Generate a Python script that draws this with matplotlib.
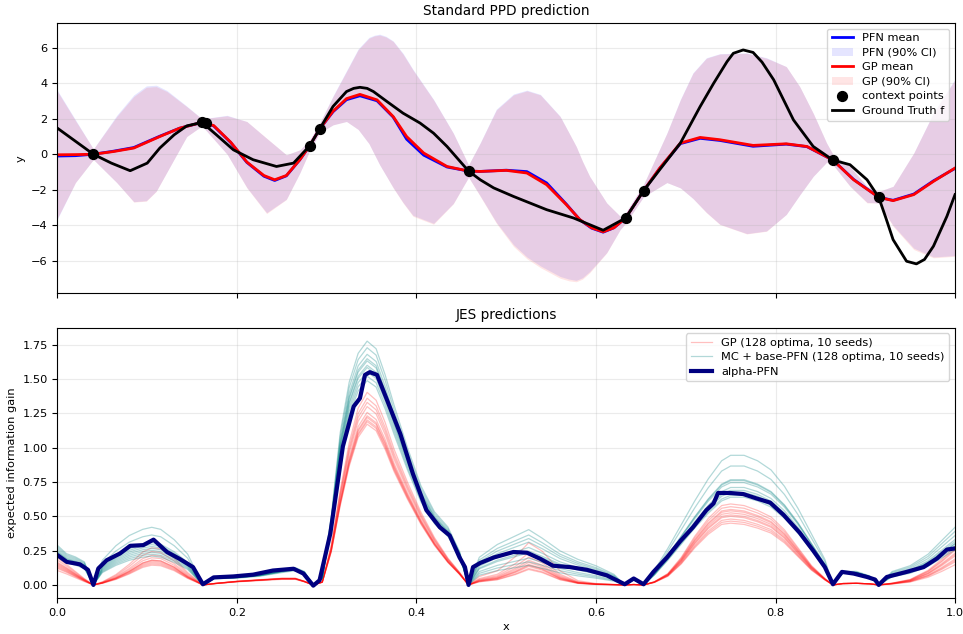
import numpy as np
import matplotlib.pyplot as plt

plt.rcParams['font.size'] = 8.2

# ---- top panel data: posterior predictive ----
ctx_x = [0.040, 0.161, 0.165, 0.281, 0.292, 0.458, 0.633, 0.653, 0.864, 0.915]
ctx_y = [0.0, 1.8, 1.78, 0.48, 1.42, -0.95, -3.6, -2.06, -0.33, -2.43]

truth_x = [0, 0.04, 0.06, 0.081, 0.1, 0.114, 0.13, 0.144, 0.161, 0.177, 0.196, 0.218,
           0.244, 0.263, 0.281, 0.292, 0.307, 0.322, 0.33, 0.337, 0.345, 0.352, 0.367,
           0.385, 0.404, 0.419, 0.434, 0.458, 0.471, 0.486, 0.508, 0.545, 0.575, 0.608,
           0.633, 0.653, 0.671, 0.694, 0.716, 0.731, 0.746, 0.753, 0.764, 0.775, 0.785,
           0.798, 0.82, 0.842, 0.864, 0.883, 0.902, 0.915, 0.923, 0.931, 0.946, 0.957,
           0.966, 0.976, 0.991, 1.0]
truth_y = [1.47, 0.0, -0.5, -0.93, -0.5, 0.35, 1.1, 1.6, 1.8, 1.1, 0.25, -0.31,
           -0.69, -0.5, 0.48, 1.42, 2.7, 3.54, 3.72, 3.78, 3.72, 3.54, 2.98,
           2.32, 1.76, 1.19, 0.44, -0.95, -1.44, -1.9, -2.38, -3.13, -3.6, -4.29,
           -3.6, -2.06, -0.87, 0.63, 2.69, 4.0, 5.23, 5.7, 5.89, 5.75, 5.2,
           4.2, 1.94, 0.44, -0.33, -0.59, -1.44, -2.43, -3.6, -4.82, -6.04, -6.19,
           -5.94, -5.19, -3.5, -2.28]

mean_x = [0, 0.02, 0.04, 0.062, 0.085, 0.114, 0.136, 0.161, 0.174, 0.193, 0.211, 0.23,
          0.242, 0.255, 0.27, 0.281, 0.292, 0.307, 0.322, 0.337, 0.356, 0.374, 0.389,
          0.408, 0.434, 0.458, 0.471, 0.5, 0.523, 0.545, 0.567, 0.582, 0.595, 0.608,
          0.62, 0.633, 0.653, 0.671, 0.694, 0.716, 0.738, 0.775, 0.812, 0.835, 0.864,
          0.887, 0.915, 0.931, 0.954, 0.976, 1.0]
gp_mean = [-0.03, -0.02, 0.0, 0.15, 0.35, 1.0, 1.47, 1.8, 1.62, 0.68, -0.44, -1.2,
           -1.44, -1.2, -0.31, 0.48, 1.42, 2.43, 3.14, 3.38, 3.07, 2.13, 1.0,
           0.07, -0.69, -0.95, -0.97, -0.91, -1.06, -1.72, -2.85, -3.69, -4.15, -4.38,
           -4.15, -3.6, -2.06, -0.78, 0.63, 0.95, 0.82, 0.5, 0.59, 0.44, -0.33,
           -1.44, -2.43, -2.62, -2.28, -1.53, -0.78]
pfn_mean = [-0.1, -0.08, 0.0, 0.17, 0.38, 1.02, 1.47, 1.8, 1.6, 0.66, -0.46, -1.24,
            -1.48, -1.22, -0.31, 0.48, 1.42, 2.4, 3.08, 3.3, 3.02, 2.1, 0.85,
            -0.05, -0.72, -0.95, -0.97, -0.9, -0.98, -1.62, -2.82, -3.7, -4.17, -4.4,
            -4.15, -3.6, -2.06, -0.8, 0.6, 0.9, 0.78, 0.45, 0.57, 0.43, -0.33,
            -1.42, -2.43, -2.6, -2.25, -1.5, -0.8]

band_x = [0, 0.02, 0.04, 0.066, 0.085, 0.099, 0.11, 0.122, 0.144, 0.161, 0.189, 0.211,
          0.233, 0.255, 0.27, 0.281, 0.292, 0.307, 0.322, 0.335, 0.347, 0.353, 0.359,
          0.366, 0.374, 0.385, 0.396, 0.419, 0.441, 0.458, 0.471, 0.489, 0.508, 0.523,
          0.538, 0.56, 0.57, 0.578, 0.585, 0.593, 0.612, 0.627, 0.633, 0.653, 0.679,
          0.694, 0.708, 0.723, 0.738, 0.768, 0.79, 0.812, 0.827, 0.842, 0.857, 0.864,
          0.883, 0.902, 0.915, 0.931, 0.954, 0.976, 1.0]
gp_upper = [3.54, 1.9, 0.3, 2.13, 3.26, 3.78, 3.82, 3.54, 2.69, 2.0, 2.17, 1.85,
            0.91, -0.03, 0.25, 0.8, 1.75, 3.26, 4.67, 5.9, 6.55, 6.68, 6.73,
            6.62, 6.37, 5.65, 4.76, 3.07, 1.19, -0.6, 0.63, 2.5, 3.35, 3.58,
            3.35, 2.13, 1.2, 0.44, -0.4, -1.25, -2.75, -3.5, -3.3, -1.7, 1.19,
            3.07, 4.57, 5.42, 5.66, 5.7, 5.42, 4.95, 3.82, 2.32, 0.63, 0.0,
            -0.69, -1.81, -2.1, -1.81, 0.07, 2.32, 4.2]
gp_lower = [-3.6, -1.6, -0.3, -1.6, -2.7, -2.65, -2.1, -1.0, 1.0, 1.6, 0.0, -1.9,
            -3.35, -2.56, -1.06, 0.2, 1.2, 1.66, 1.85, 1.4, 0.6, 0.0, -0.6,
            -1.2, -1.9, -2.75, -3.5, -3.95, -2.8, -1.3, -2.38, -3.9, -5.2, -5.9,
            -6.4, -7.0, -7.15, -7.2, -7.05, -6.69, -5.57, -4.25, -3.9, -2.4, -1.6,
            -1.9, -2.5, -3.3, -3.97, -4.5, -4.35, -3.4, -2.3, -1.25, -0.45, -0.6,
            -1.81, -2.75, -2.75, -4.07, -5.38, -5.85, -5.76]
pfn_upper = [3.6, 1.95, 0.3, 2.2, 3.35, 3.86, 3.9, 3.6, 2.72, 2.0, 2.2, 1.85,
             0.9, -0.03, 0.25, 0.8, 1.75, 3.3, 4.72, 5.95, 6.6, 6.72, 6.78,
             6.66, 6.4, 5.7, 4.8, 3.1, 1.2, -0.6, 0.65, 2.55, 3.4, 3.62,
             3.38, 2.15, 1.2, 0.44, -0.4, -1.25, -2.75, -3.5, -3.3, -1.7, 1.2,
             3.1, 4.6, 5.45, 5.68, 5.72, 5.45, 4.95, 3.82, 2.32, 0.63, 0.0,
             -0.69, -1.81, -2.1, -1.81, 0.07, 2.35, 4.25]
pfn_lower = [-3.65, -1.6, -0.3, -1.6, -2.68, -2.62, -2.08, -1.0, 1.0, 1.6, 0.0, -1.88,
             -3.3, -2.54, -1.06, 0.2, 1.2, 1.66, 1.85, 1.4, 0.6, 0.0, -0.6,
             -1.2, -1.88, -2.72, -3.45, -3.9, -2.78, -1.3, -2.35, -3.85, -5.1, -5.8,
             -6.3, -6.9, -7.05, -7.12, -6.97, -6.62, -5.55, -4.25, -3.9, -2.4, -1.6,
             -1.9, -2.5, -3.28, -3.95, -4.48, -4.33, -3.4, -2.3, -1.25, -0.45, -0.6,
             -1.8, -2.72, -2.75, -4.02, -5.3, -5.8, -5.72]

# ---- bottom panel data: JES acquisition ----
eig_x = [0, 0.01, 0.02, 0.03, 0.04,
         0.05, 0.065, 0.08, 0.095, 0.105, 0.115, 0.13, 0.145, 0.162,
         0.175, 0.2, 0.225, 0.25, 0.265, 0.275, 0.285,
         0.295, 0.305, 0.315, 0.325, 0.335, 0.345, 0.355, 0.365, 0.375, 0.39, 0.405,
         0.42, 0.435, 0.448, 0.458,
         0.47, 0.49, 0.51, 0.525, 0.54, 0.56, 0.58, 0.6, 0.62, 0.632,
         0.642, 0.653,
         0.665, 0.68, 0.695, 0.71, 0.725, 0.74, 0.75, 0.765, 0.78, 0.795, 0.81,
         0.825, 0.84, 0.855, 0.864,
         0.875, 0.89, 0.905, 0.915,
         0.93, 0.95, 0.97, 0.985, 1.0]
gp_eig = [0.15, 0.115, 0.075, 0.035, 0.0,
          0.015, 0.05, 0.1, 0.16, 0.18, 0.175, 0.13, 0.06, 0.0,
          0.01, 0.025, 0.035, 0.045, 0.045, 0.025, 0.0,
          0.02, 0.25, 0.6, 0.9, 1.12, 1.22, 1.17, 1.03, 0.86, 0.65, 0.46,
          0.3, 0.17, 0.08, 0.0,
          0.03, 0.05, 0.1, 0.15, 0.12, 0.05, 0.015, 0.005, 0.002, 0.0,
          0.003, 0.0,
          0.02, 0.07, 0.17, 0.3, 0.41, 0.49, 0.5, 0.49, 0.46, 0.42, 0.34,
          0.23, 0.12, 0.04, 0.0,
          0.01, 0.012, 0.008, 0.0,
          0.01, 0.03, 0.08, 0.14, 0.21]
mc_eig = [0.24, 0.19, 0.17, 0.14, 0.0,
          0.12, 0.19, 0.24, 0.27, 0.28, 0.27, 0.22, 0.15, 0.0,
          0.05, 0.055, 0.07, 0.1, 0.115, 0.09, 0.0,
          0.05, 0.45, 1.0, 1.33, 1.52, 1.6, 1.55, 1.38, 1.18, 0.9, 0.65,
          0.48, 0.38, 0.22, 0.0,
          0.13, 0.19, 0.23, 0.26, 0.22, 0.16, 0.12, 0.09, 0.05, 0.0,
          0.04, 0.0,
          0.08, 0.2, 0.33, 0.46, 0.58, 0.68, 0.71, 0.71, 0.68, 0.63, 0.54,
          0.42, 0.28, 0.14, 0.0,
          0.09, 0.09, 0.06, 0.0,
          0.07, 0.1, 0.16, 0.23, 0.3]

gp_seed_scale = [
    [0.7, 1.0, 0.95, 1.03, 0.8, 1, 0.96, 1, 0.85],
    [0.8, 0.85, 1.0, 0.96, 1.35, 1, 1.05, 1, 1.2],
    [0.9, 1.35, 1.05, 1.115, 2.05, 1, 1.14, 1, 0.7],
    [0.95, 0.9, 1.0, 0.985, 0.95, 1, 0.9, 1, 1.0],
    [1.0, 1.1, 0.9, 1.065, 1.0, 1, 1.18, 1, 1.33],
    [1.05, 0.8, 1.0, 1.0, 0.75, 1, 1.02, 1, 0.9],
    [1.1, 1.5, 1.05, 1.15, 1.2, 1, 1.08, 1, 1.1],
    [1.2, 0.95, 1.0, 0.975, 0.9, 1, 0.93, 1, 1.25],
    [1.3, 1.2, 1.1, 1.09, 1.55, 1, 1.0, 1, 0.8],
    [0.85, 1.0, 1.0, 1.01, 1.1, 1, 1.1, 1, 1.05],
]
mc_seed_scale = [
    [0.85, 0.75, 0.95, 0.93, 0.55, 1, 0.9, 0.95, 0.85],
    [1.0, 1.5, 1.05, 1.11, 1.55, 1.1, 1.33, 1.05, 1.4],
    [1.1, 0.9, 1.0, 0.97, 0.9, 1, 0.95, 1, 1.0],
    [0.9, 1.3, 1.1, 1.05, 1.4, 1, 1.22, 1.1, 1.2],
    [1.15, 0.85, 0.95, 0.99, 0.65, 0.9, 0.92, 0.95, 0.9],
    [0.95, 1.0, 1.0, 1.03, 1.05, 1, 1.07, 1, 1.1],
    [1.05, 0.8, 0.9, 0.95, 0.75, 1, 0.97, 1, 0.95],
    [1.0, 1.1, 1.0, 1.08, 1.3, 1, 1.08, 1, 1.3],
    [1.2, 0.95, 1.05, 1.0, 1.2, 1, 1.0, 1, 1.0],
    [0.9, 1.05, 1.0, 1.02, 0.95, 1, 1.05, 1, 1.05],
]

apfn_x = [0, 0.0103, 0.025, 0.034, 0.04, 0.0455, 0.0548, 0.0696, 0.081, 0.0956, 0.107,
          0.122, 0.136, 0.151, 0.162, 0.174, 0.196, 0.218, 0.24, 0.263, 0.274, 0.285,
          0.292, 0.304, 0.318, 0.33, 0.337, 0.3426, 0.348, 0.356, 0.367, 0.382, 0.396,
          0.411, 0.426, 0.437, 0.448, 0.454, 0.458, 0.463, 0.471, 0.486, 0.508, 0.523,
          0.538, 0.552, 0.571, 0.59, 0.612, 0.632, 0.642, 0.653, 0.664, 0.679, 0.694,
          0.708, 0.723, 0.731, 0.736, 0.749, 0.764, 0.779, 0.794, 0.809, 0.827, 0.842,
          0.855, 0.864, 0.874, 0.887, 0.902, 0.911, 0.915, 0.924, 0.946, 0.965, 0.98,
          0.991, 1.0]
apfn_y = [0.217, 0.168, 0.15, 0.11, 0.0, 0.12, 0.18, 0.229, 0.285, 0.29, 0.33,
          0.24, 0.19, 0.13, 0.005, 0.055, 0.062, 0.075, 0.105, 0.118, 0.083, -0.005,
          0.034, 0.375, 1.01, 1.3, 1.36, 1.53, 1.55, 1.53, 1.35, 1.1, 0.81,
          0.545, 0.42, 0.36, 0.2, 0.13, 0.0, 0.13, 0.16, 0.2, 0.24, 0.235,
          0.19, 0.14, 0.13, 0.11, 0.07, 0.005, 0.047, 0.005, 0.095, 0.2, 0.32,
          0.42, 0.545, 0.594, 0.67, 0.67, 0.662, 0.63, 0.6, 0.51, 0.38, 0.25,
          0.13, 0.005, 0.095, 0.083, 0.058, 0.039, 0.0, 0.058, 0.095, 0.13, 0.193,
          0.258, 0.266]


def seed_curve(template, scales):
    # stretches between context points share one scale; template is 0 at the joins
    edges = [0.04, 0.162, 0.285, 0.458, 0.632, 0.653, 0.864, 0.915]
    seg = np.searchsorted(edges, np.array(eig_x), side='left')
    return np.array(template) * np.array(scales)[seg]


fig, (ax1, ax2) = plt.subplots(2, 1, figsize=(9.63, 6.34), dpi=100, sharex=True)
fig.subplots_adjust(left=0.0597, right=0.9917, top=0.9637, bottom=0.0568, hspace=0.126)

# top panel
pfn_ci = ax1.fill_between(band_x, pfn_lower, pfn_upper, color='blue', alpha=0.1,
                          linewidth=0, label='PFN (90% CI)')
gp_ci = ax1.fill_between(band_x, gp_lower, gp_upper, color='red', alpha=0.1,
                         linewidth=0, label='GP (90% CI)')
pfn_line, = ax1.plot(mean_x, pfn_mean, color='blue', lw=2, label='PFN mean')
gp_line, = ax1.plot(mean_x, gp_mean, color='red', lw=2, label='GP mean')
truth_line, = ax1.plot(truth_x, truth_y, color='black', lw=2, label='Ground Truth f')
ctx = ax1.scatter(ctx_x, ctx_y, color='black', s=50, zorder=5, label='context points')
ax1.legend(handles=[pfn_line, pfn_ci, gp_line, gp_ci, ctx, truth_line],
           loc='upper right', fontsize=8.2, labelspacing=0.4, handlelength=1.9)
ax1.set_title('Standard PPD prediction', fontsize=9.8)
ax1.set_ylabel('y')
ax1.set_ylim(-7.86, 7.41)
ax1.set_yticks([-6, -4, -2, 0, 2, 4, 6])
ax1.grid(True, alpha=0.25)

# bottom panel
for i, sc in enumerate(gp_seed_scale):
    ax2.plot(eig_x, seed_curve(gp_eig, sc), color='red', alpha=0.25, lw=0.9,
             label='GP (128 optima, 10 seeds)' if i == 0 else None)
for i, sc in enumerate(mc_seed_scale):
    ax2.plot(eig_x, seed_curve(mc_eig, sc), color='teal', alpha=0.3, lw=0.9,
             label='MC + base-PFN (128 optima, 10 seeds)' if i == 0 else None)
ax2.plot(apfn_x, apfn_y, color='navy', lw=3, label='alpha-PFN')
ax2.legend(loc='upper right', fontsize=8.2, labelspacing=0.4, handlelength=1.9)
ax2.set_title('JES predictions', fontsize=9.8)
ax2.set_xlabel('x', labelpad=3)
ax2.set_ylabel('expected information gain')
ax2.set_ylim(-0.095, 1.875)
ax2.set_xlim(0, 1)
ax2.set_xticks([0, 0.2, 0.4, 0.6, 0.8, 1.0])
ax2.grid(True, alpha=0.25)

fig.savefig('out.png', dpi=100)
